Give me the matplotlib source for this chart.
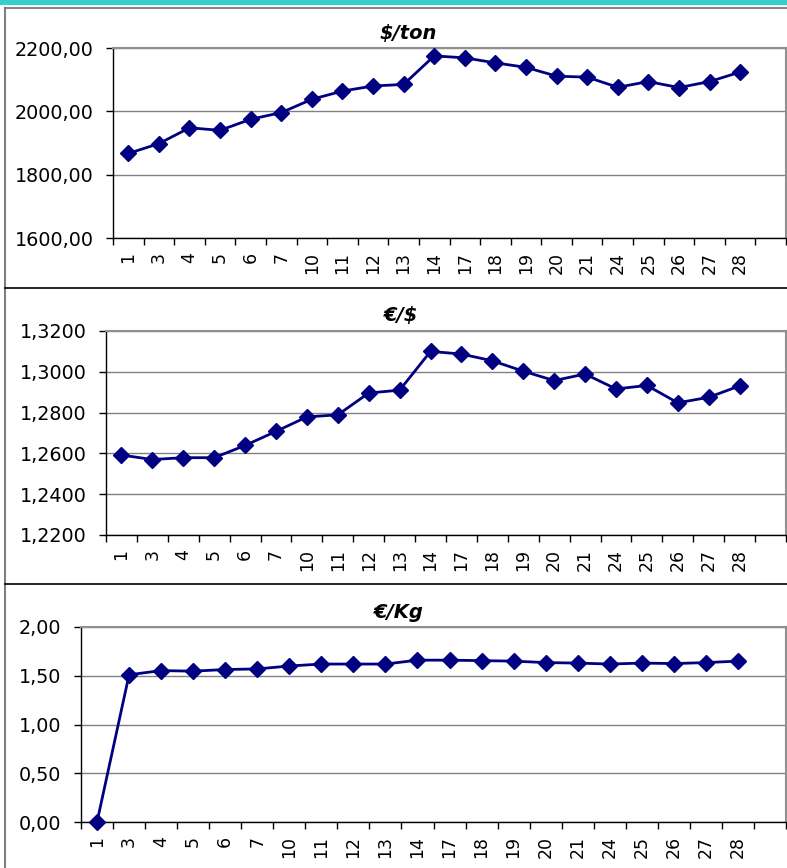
import matplotlib
matplotlib.use("Agg")
import matplotlib.pyplot as plt
from matplotlib import font_manager as fm
from matplotlib.lines import Line2D
from matplotlib.patches import Rectangle

days = ['1', '3', '4', '5', '6', '7', '10', '11', '12', '13', '14',
        '17', '18', '19', '20', '21', '24', '25', '26', '27', '28']

usd_ton = [1867, 1898, 1948, 1940, 1975, 1996, 2038, 2064, 2080, 2085, 2175,
           2169, 2153, 2139, 2111, 2108, 2076, 2094, 2075, 2094, 2124]
eur_usd = [1.2592, 1.2570, 1.2579, 1.2579, 1.2639, 1.2708, 1.2779, 1.2789,
           1.2896, 1.2910, 1.3100, 1.3087, 1.3054, 1.3003, 1.2957, 1.2989,
           1.2916, 1.2933, 1.2848, 1.2875, 1.2931]
eur_kg = [0.00, 1.51, 1.553, 1.547, 1.564, 1.57, 1.60, 1.62, 1.62, 1.62, 1.66,
          1.66, 1.655, 1.65, 1.635, 1.63, 1.62, 1.63, 1.625, 1.635, 1.65]

titles = ['$/ton', '€/$', '€/Kg']
yticks_1 = [1600, 1800, 2000, 2200]
yticklabels_1 = ['1600,00', '1800,00', '2000,00', '2200,00']
yticks_2 = [1.22, 1.24, 1.26, 1.28, 1.30, 1.32]
yticklabels_2 = ['1,2200', '1,2400', '1,2600', '1,2800', '1,3000', '1,3200']
yticks_3 = [0.0, 0.5, 1.0, 1.5, 2.0]
yticklabels_3 = ['0,00', '0,50', '1,00', '1,50', '2,00']

ytick_fp = fm.FontProperties(family='DejaVu Sans', size=13.8)
title_fp = fm.FontProperties(family='DejaVu Sans', weight='bold',
                             style='oblique', size=14)
xtick_fp = fm.FontProperties(family='DejaVu Sans', size=12.5)

W, H = 787, 868
fig = plt.figure(figsize=(W / 100, H / 100), dpi=100)
fig.patch.set_facecolor('white')

# decorations: teal top band, panel borders
fig.add_artist(Rectangle((0, 1 - 5 / H), 1, 5 / H, transform=fig.transFigure,
                         facecolor='#36CFCB', edgecolor='none'))
fig.add_artist(Line2D([5 / W, 5 / W], [0, 1 - 8 / H], transform=fig.transFigure,
                      color='#808080', lw=1.5))
fig.add_artist(Line2D([5 / W, 1], [1 - 8 / H, 1 - 8 / H], transform=fig.transFigure,
                      color='#707070', lw=1.2))
for yy in (288, 584):
    fig.add_artist(Line2D([5 / W, 1], [1 - yy / H, 1 - yy / H],
                          transform=fig.transFigure, color='black', lw=1.2))

panels = [
    dict(left=113, top=48, bottom=238, vals=usd_ton, yt=yticks_1,
         ytl=yticklabels_1, title=titles[0], tx=408, ty=34),
    dict(left=106, top=331, bottom=535, vals=eur_usd, yt=yticks_2,
         ytl=yticklabels_2, title=titles[1], tx=401, ty=315),
    dict(left=81, top=627, bottom=822, vals=eur_kg, yt=yticks_3,
         ytl=yticklabels_3, title=titles[2], tx=399, ty=612),
]
right = 786
n = len(days)
for p in panels:
    ax = fig.add_axes([p['left'] / W, 1 - p['bottom'] / H,
                       (right - p['left']) / W, (p['bottom'] - p['top']) / H])
    x = list(range(n))
    ax.plot(x, p['vals'], color='#000080', lw=2.0, marker='D', ms=8.6,
            mfc='#000080', mec='#000080', mew=1.0, clip_on=False, zorder=5)
    ax.set_xlim(-0.5, n + 0.5)
    ax.set_ylim(p['yt'][0], p['yt'][-1])
    ax.set_yticks(p['yt'])
    ax.set_yticklabels(p['ytl'], fontproperties=ytick_fp)
    ax.set_xticks([i - 0.5 for i in range(n + 2)])
    ax.set_xticklabels([])
    ax.set_xticks(x, minor=True)
    ax.set_xticklabels(days, minor=True, rotation=90, fontproperties=xtick_fp,
                       va='top', ha='center')
    ax.tick_params(axis='x', which='major', length=5, width=1, color='black',
                   direction='out')
    ax.tick_params(axis='x', which='minor', length=0, pad=10)
    ax.tick_params(axis='y', length=5, width=1, color='black', direction='out',
                   pad=9)
    ax.grid(axis='y', color='#808080', lw=1.0)
    ax.set_axisbelow(True)
    for s in ('left', 'bottom'):
        ax.spines[s].set_color('black')
        ax.spines[s].set_linewidth(1.0)
    for s in ('top', 'right'):
        ax.spines[s].set_color('#909090')
        ax.spines[s].set_linewidth(1.5)
    fig.text(p['tx'] / W, 1 - p['ty'] / H, p['title'], fontproperties=title_fp,
             ha='center', va='center')

fig.savefig('out.png', dpi=100, facecolor='white')
